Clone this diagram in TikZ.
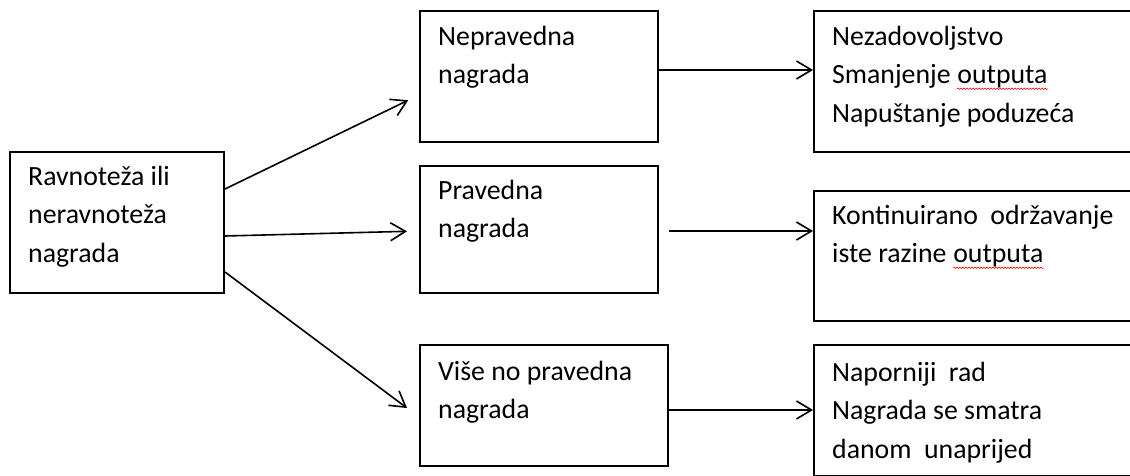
\documentclass[tikz,border=0pt]{standalone}
\usepackage{fontspec}
\setmainfont{Carlito}
\usetikzlibrary{arrows.meta, decorations.pathmorphing}

% red wavy spell-check mark under a word
\newcommand{\spellmark}[1]{\tikz[baseline=(w.base)]{\node[inner sep=0pt] (w) {#1};
  \draw[red, line width=0.6pt, decorate, decoration={snake, amplitude=0.7pt, segment length=3pt}]
    ([yshift=-5pt]w.base west) -- ([yshift=-5pt]w.base east);}}

\begin{document}
\begin{tikzpicture}[x=1pt, y=-1pt,
  box/.style={draw, line width=2pt, rectangle, anchor=north west, inner sep=0pt},
  txt/.style={anchor=north west, align=left, inner sep=0pt,
    font=\fontsize{27.8}{38.3}\selectfont},
  arr/.style={line width=1.6pt, -{Straight Barb[length=15pt, width=18pt, line width=1.6pt]}}]
  \useasboundingbox (0,0) rectangle (1130,476);
  \clip (0,0) rectangle (1130,476);

  % Left box
  \node[box, minimum width=214pt, minimum height=141pt] (ravnoteza) at (9,151) {};
  \node[txt] (ravnotezaTxt) at (28,166) {Ravnoteža ili\\neravnoteža\\nagrada};

  % Middle column
  \node[box, minimum width=238pt, minimum height=131pt] (nepravedna) at (419,10) {};
  \node[txt] (nepravednaTxt) at (438,26) {Nepravedna\\nagrada};
  \node[box, minimum width=238pt, minimum height=127pt] (pravedna) at (419,165) {};
  \node[txt] (pravednaTxt) at (438,180) {Pravedna\\nagrada};
  \node[box, minimum width=248pt, minimum height=121pt] (vise) at (419,344) {};
  \node[txt] (viseTxt) at (438,361) {Više no pravedna\\nagrada};

  % Right column (cut by the page edge)
  \node[box, minimum width=330pt, minimum height=141pt] (nezadovoljstvo) at (813,10) {};
  \node[txt] (nezadovoljstvoTxt) at (832,26)
    {Nezadovoljstvo\\Smanjenje \spellmark{outputa}\\Napuštanje poduzeća};
  \node[box, minimum width=330pt, minimum height=130pt] (odrzavanje) at (813,190) {};
  \node[txt] (odrzavanjeTxt) at (832,205)
    {Kontinuirano\ \ održavanje\\iste razine \spellmark{outputa}};
  \node[box, minimum width=330pt, minimum height=131pt] (naporniji) at (813,344) {};
  \node[txt] (napornijiTxt) at (832,362)
    {Naporniji\ \ rad\\Nagrada se smatra\\danom\ \ unaprijed};

  % Arrows from the left box
  \draw[arr, shorten >=12pt] ([yshift=-38pt]ravnoteza.north east) -- ([yshift=-85pt]nepravedna.north west);
  \draw[arr, shorten >=12pt] ([yshift=-85pt]ravnoteza.north east) -- ([yshift=-66pt]pravedna.north west);
  \draw[arr, shorten >=15pt] ([yshift=-121pt]ravnoteza.north east) -- ([yshift=-73pt]vise.north west);

  % Arrows to the right column
  \draw[arr] ([yshift=-60pt]nepravedna.north east) -- ([yshift=-60pt]nezadovoljstvo.north west);
  \draw[arr, shorten <=10pt] ([yshift=-66pt]pravedna.north east) -- ([yshift=-41pt]odrzavanje.north west);
  \draw[arr] ([yshift=-66pt]vise.north east) -- ([yshift=-66pt]naporniji.north west);
\end{tikzpicture}
\end{document}
